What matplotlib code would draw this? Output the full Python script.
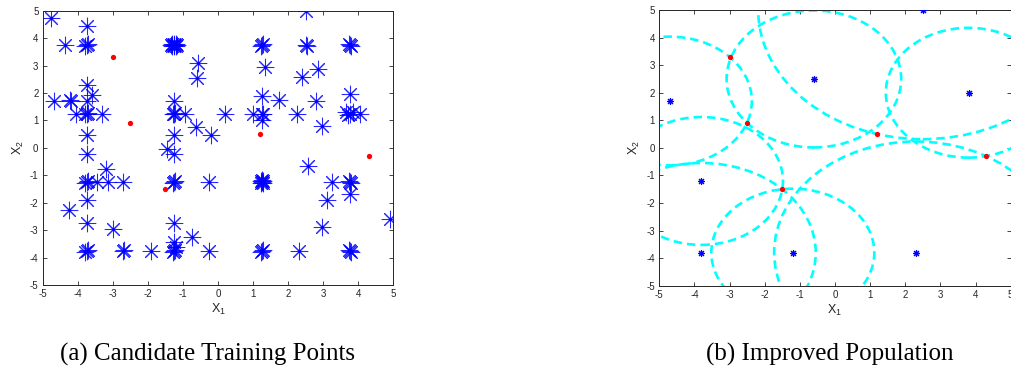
import numpy as np
import matplotlib
matplotlib.use("Agg")
import matplotlib.pyplot as plt
from matplotlib.patches import Circle

plt.rcParams["axes.unicode_minus"] = False
plt.rcParams["font.family"] = ["Liberation Sans", "DejaVu Sans"]

# Candidate training points (repeated entries are points that were sampled more than once)
cand_x = [-4.75, -3.75, -4.35,
          -3.75, -3.72, -3.78,
          -1.25, -1.25, -1.20, -1.30, -1.20, -1.30, -1.25, -1.33, -1.17,
          -0.56, -0.60, -3.75, -4.67,
          -4.22, -4.18, -3.75, -3.60, -4.05,
          -3.75, -3.72, -3.78, -3.30,
          -1.25, -1.25, -1.22, -1.28, -0.95, -0.63, -0.20,
          -3.75, -1.25, -3.75, -1.45, -1.25, -3.20,
          2.50, 1.25, 1.28, 1.22, 2.50, 2.53, 3.75, 3.72, 3.78,
          1.35, 2.40, 2.86, 1.25, 1.75, 2.80, 3.75,
          0.20, 1.00, 1.25, 1.28, 1.25, 2.25,
          3.65, 3.75, 3.85, 3.70, 4.05, 2.95, 2.55,
          -3.75, -3.72, -3.78, -3.45, -3.13, -2.72,
          -1.25, -1.22, -1.28, -0.25,
          -3.75, -4.25, -3.75, -3.00, -1.25, -1.25, -0.75, -1.20,
          -3.75, -3.72, -3.78, -2.72, -2.69, -1.90,
          -1.25, -1.22, -1.28, -0.25,
          1.25, 1.29, 1.21, 1.21, 1.29, 1.25,
          3.25, 3.75, 3.72, 3.78, 3.75, 3.10, 2.95, 4.90,
          1.25, 1.28, 1.22, 2.30, 3.75, 3.72, 3.78]
cand_y = [4.75, 4.45, 3.75,
          3.75, 3.78, 3.72,
          3.75, 3.80, 3.70, 3.80, 3.80, 3.70, 3.70, 3.75, 3.75,
          3.10, 2.55, 2.28, 1.70,
          1.75, 1.70, 1.70, 1.93, 1.25,
          1.25, 1.28, 1.22, 1.25,
          1.70, 1.25, 1.28, 1.22, 1.25, 0.77, 0.47,
          0.47, 0.47, -0.23, -0.04, -0.23, -0.77,
          5.00, 3.75, 3.78, 3.72, 3.75, 3.72, 3.75, 3.78, 3.72,
          2.95, 2.60, 2.86, 1.90, 1.75, 1.70, 1.95,
          1.25, 1.25, 1.25, 1.22, 1.00, 1.25,
          1.30, 1.25, 1.30, 1.20, 1.25, 0.80, -0.68,
          -1.25, -1.22, -1.28, -1.25, -1.25, -1.25,
          -1.25, -1.22, -1.28, -1.25,
          -1.90, -2.25, -2.75, -2.95, -2.75, -3.45, -3.25, -3.62,
          -3.75, -3.72, -3.78, -3.75, -3.72, -3.75,
          -3.75, -3.72, -3.78, -3.75,
          -1.25, -1.21, -1.29, -1.21, -1.29, -1.18,
          -1.25, -1.25, -1.22, -1.28, -1.70, -1.90, -2.90, -2.60,
          -3.75, -3.72, -3.78, -3.75, -3.75, -3.72, -3.78]

# Selected training points
sel_x = [-3.0, -2.5, 1.2, 4.3, -1.5]
sel_y = [3.3, 0.9, 0.5, -0.3, -1.5]

# Improved population
pop_x = [-4.7, -0.6, 2.5, 3.8, -3.8, -3.8, -1.2, 2.3]
pop_y = [1.7, 2.5, 5.0, 2.0, -1.2, -3.8, -3.8, -3.8]

ticks = list(range(-5, 6))
captions = ["(a) Candidate Training Points", "(b) Improved Population"]

AX_COLOR = "#262626"
STAR = (8, 2, 0)

fig = plt.figure(figsize=(10.11, 3.74), dpi=100)
ax1 = fig.add_axes([0.0422, 0.238, 0.347, 0.7334])
ax2 = fig.add_axes([0.6521, 0.236, 0.3476, 0.7372])


def style(ax):
    ax.set_xlim(-5, 5)
    ax.set_ylim(-5, 5)
    ax.set_xticks(ticks)
    ax.set_yticks(ticks)
    ax.tick_params(direction="in", length=2.6, width=0.6, colors=AX_COLOR,
                   labelsize=7, top=True, right=True, pad=3)
    for s in ax.spines.values():
        s.set_color(AX_COLOR)
        s.set_linewidth(0.7)
    ax.set_xlabel(r"$\mathregular{X_1}$", fontsize=9, color=AX_COLOR, labelpad=2)
    ax.set_ylabel(r"$\mathregular{X_2}$", fontsize=9, color=AX_COLOR, labelpad=3)


# Left: candidate training points
ax1.plot(cand_x, cand_y, linestyle="none", marker=STAR, ms=12.5, mew=0.75,
         color="#0000ff", mfc="none", alpha=0.85)
ax1.plot(cand_x, cand_y, linestyle="none", marker="o", ms=2.2, mew=0,
         color="#0000ff")
ax1.plot(sel_x, sel_y, linestyle="none", marker="o", ms=3.8, mew=0,
         color="#ff0000", zorder=4)
style(ax1)

# Right: improved population, each with a circle reaching its nearest selected point
px = np.array(pop_x)
py = np.array(pop_y)
sx = np.array(sel_x)
sy = np.array(sel_y)
radii = np.sqrt((px[:, None] - sx[None, :]) ** 2 + (py[:, None] - sy[None, :]) ** 2).min(axis=1)
for cx, cy, r in zip(px, py, radii):
    ax2.add_patch(Circle((cx, cy), r, fill=False, edgecolor="#00ffff", lw=1.9,
                         linestyle=(0, (3.2, 1.9)), zorder=2))
ax2.plot(pop_x, pop_y, linestyle="none", marker=STAR, ms=5, mew=0.8,
         color="#0000ff", zorder=3)
ax2.plot(pop_x, pop_y, linestyle="none", marker="o", ms=2.4, mew=0,
         color="#0000ff", zorder=3)
ax2.plot(sel_x, sel_y, linestyle="none", marker="o", ms=3.8, mew=0,
         color="#ff0000", zorder=4)
style(ax2)

# Sub-figure captions
fig.text(207 / 1011, 1 - 354 / 374, captions[0], ha="center", va="center",
         fontsize=18, family="Liberation Serif", color="black")
fig.text(830 / 1011, 1 - 354 / 374, captions[1], ha="center", va="center",
         fontsize=18, family="Liberation Serif", color="black")

fig.savefig("out.png", dpi=100)
